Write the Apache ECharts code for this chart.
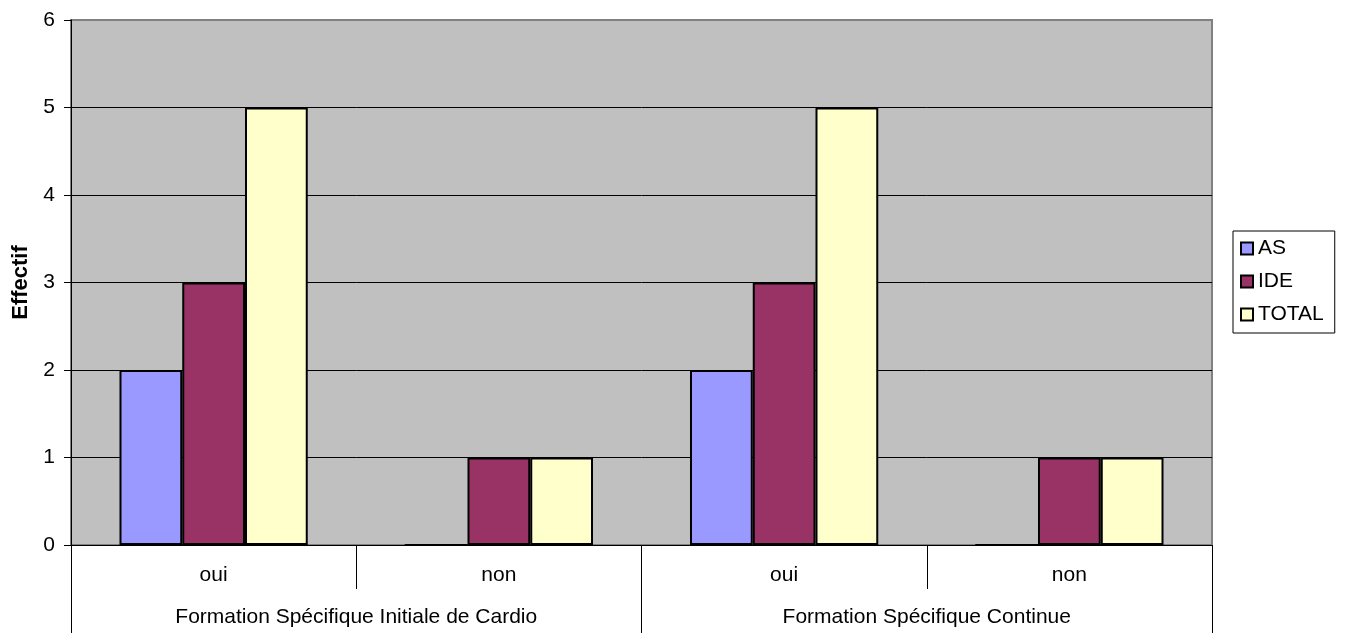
<!DOCTYPE html>
<html>
<head>
<meta charset="utf-8">
<script src="https://cdn.jsdelivr.net/npm/echarts@6/dist/echarts.min.js"></script>
<style>
  html, body { margin: 0; padding: 0; background: #ffffff; }
  #chart { width: 1348px; height: 635px; }
</style>
</head>
<body>
<div id="chart"></div>
<script>
// Answers (oui / non) under each training type
const answers = ['oui', 'non', 'oui', 'non'];
const groups = ['Formation Spécifique Initiale de Cardio', 'Formation Spécifique Continue'];
const seriesNames = ['AS', 'IDE', 'TOTAL'];
const asValues = [2, 0, 2, 0];
const ideValues = [3, 1, 3, 1];
const totalValues = [5, 1, 5, 1];
const yTicks = [0, 1, 2, 3, 4, 5, 6];

const font = "'Liberation Sans', Arial, sans-serif";
const fs = 21;
const colors = ['#9999FF', '#993366', '#FFFFCC'];
const values = [asValues, ideValues, totalValues];

const chart = echarts.init(document.getElementById('chart'), null, { renderer: 'canvas' });

chart.setOption({
  animation: false,
  textStyle: { fontFamily: font },
  grid: {
    left: 71, right: 136, top: 20, bottom: 90,
    show: true, backgroundColor: '#C0C0C0',
    borderColor: '#808080', borderWidth: 2
  },
  legend: {
    orient: 'vertical',
    left: 1233, top: 231,
    padding: [7, 11, 8, 7],
    itemGap: 12,
    itemWidth: 12, itemHeight: 12,
    icon: 'rect',
    itemStyle: { borderColor: '#000', borderWidth: 2 },
    borderColor: '#000', borderWidth: 1,
    backgroundColor: '#fff',
    textStyle: { fontSize: fs, color: '#000', fontFamily: font },
    data: seriesNames
  },
  xAxis: [
    {
      type: 'category',
      data: answers,
      position: 'bottom',
      axisLine: { show: true, lineStyle: { color: '#000', width: 1 } },
      axisTick: { show: true, length: 44, lineStyle: { color: '#000' } },
      axisLabel: { interval: 0, margin: 20, fontSize: fs, color: '#000', fontFamily: font },
      splitLine: { show: false }
    },
    {
      type: 'category',
      data: groups,
      position: 'bottom',
      axisLine: { show: false },
      axisTick: { show: true, length: 88, lineStyle: { color: '#000' } },
      axisLabel: { interval: 0, margin: 62, fontSize: fs, color: '#000', fontFamily: font },
      splitLine: { show: false }
    }
  ],
  yAxis: {
    type: 'value',
    min: 0, max: 6, interval: 1,
    name: 'Effectif',
    nameLocation: 'middle',
    nameRotate: 90,
    nameGap: 39,
    nameTextStyle: { fontSize: 22, fontWeight: 'bold', color: '#000', fontFamily: font },
    axisLine: { show: true, lineStyle: { color: '#000', width: 1 } },
    axisTick: { show: true, length: 7, lineStyle: { color: '#000' } },
    axisLabel: {
      fontSize: fs, color: '#000', margin: 16, fontFamily: font,
      formatter: v => (yTicks.includes(v) ? String(v) : '')
    },
    splitLine: { show: true, showMaxLine: false, lineStyle: { color: '#000', width: 1 } }
  },
  series: seriesNames.map((name, i) => ({
    name: name,
    type: 'bar',
    xAxisIndex: 0,
    data: values[i],
    barWidth: '22%',
    barGap: '0%',
    itemStyle: { color: colors[i], borderColor: '#000', borderWidth: 2 }
  }))
});
</script>
</body>
</html>
